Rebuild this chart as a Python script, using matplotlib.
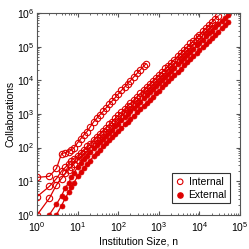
import numpy as np
import matplotlib.pyplot as plt

# institution sizes (log bins)
x_i1 = [1, 2, 3, 4, 5, 6, 7, 8, 10, 12, 14, 17, 20, 25, 30, 35, 42, 50, 60, 70,
        85, 100, 120, 145, 170, 200, 240, 290, 350, 420, 480]
y_i1 = [13, 14, 24, 66, 71, 76, 85, 96, 140, 185, 235, 300, 400, 590, 760, 940,
        1180, 1500, 1950, 2400, 3100, 3900, 5000, 6400, 7900, 9800, 12500, 16000,
        20500, 26000, 31000]

x_big = [1, 2, 3, 4, 5, 6, 7, 8, 10, 12, 14, 17, 20, 25, 30, 35, 42, 50, 60, 70,
         85, 100, 120, 145, 170, 200, 240, 290, 350, 420, 500, 600, 710, 850,
         1000, 1200, 1450, 1700, 2000, 2400, 2900, 3500, 4200, 5000, 6000, 7100,
         8500, 10000, 12000, 14500, 17000, 20000, 24000, 29000, 35000, 42000, 50000]

y_i2 = [3.5, 7, 12, 20, 26, 33, 40, 47, 57, 71, 85, 108, 131, 171, 213, 256, 319,
        393, 488, 590, 745, 904, 1130, 1410, 1710, 2080, 2580, 3250, 4080, 5080,
        6260, 7790, 9550, 11800, 14300, 17800, 22400, 27100, 32900, 41000, 51500,
        64700, 80600, 99300, 124000, 151000, 188000, 227000, 283000, 355000,
        430000, 522000, 650000, 816000]

y_i3 = [1, 3.1, 7.8, 12, 17, 22, 27, 32, 42, 52, 63, 80, 99, 130, 163, 197, 246,
        300, 370, 450, 565, 690, 860, 1080, 1300, 1580, 1960, 2470, 3100, 3860,
        4760, 5920, 7260, 9000, 10900, 13500, 17000, 20600, 25000, 31200, 39100,
        49200, 61300, 75500, 94000, 115000, 143000, 173000, 215000, 270000,
        327000, 397000]

x_e1 = x_big[1:]
y_e1 = [1, 2.1, 3.7, 6.5, 9, 13, 17, 27, 36, 45, 58, 72, 96, 121, 147, 183, 225,
        279, 337, 426, 517, 644, 808, 978, 1190, 1480, 1860, 2330, 2910, 3580,
        4460, 5460, 6780, 8200, 10200, 12800, 15500, 18900, 23500, 29500, 37000,
        46100, 56800, 70800, 86700, 108000, 130000, 162000, 203000, 246000,
        299000, 372000, 467000, 585000, 728000, 897000]

x_e2 = x_big[2:]
y_e2 = [1, 1.9, 3.2, 4.8, 6.7, 8.9, 14, 19, 24.5, 32, 41, 56, 71, 87, 108, 134,
        167, 202, 256, 310, 386, 485, 587, 714, 888, 1110, 1400, 1750, 2150,
        2680, 3280, 4070, 4920, 6130, 7690, 9300, 11300, 14100, 17700, 22200,
        27700, 34100, 42500, 52000, 64500, 78000, 97000, 122000, 148000, 179000,
        223000, 280000, 351000, 437000, 538000]

red = '#dd0000'
plt.rcParams['font.family'] = ['Liberation Sans', 'DejaVu Sans']
plt.rcParams['mathtext.default'] = 'regular'

fig = plt.figure(figsize=(2.49, 2.49), dpi=100)
ax = fig.add_axes([0.149, 0.137, 0.815, 0.811])

ms = 4.6
for xs, ys in [(x_i1, y_i1), (x_big[:len(y_i2)], y_i2), (x_big[:len(y_i3)], y_i3)]:
    ax.plot(xs, ys, '-o', color=red, lw=0.9, ms=ms, mfc='none', mew=0.8)
for xs, ys in [(x_e1, y_e1), (x_e2, y_e2)]:
    ax.plot(xs, ys, '-o', color=red, lw=0.9, ms=ms - 1.0, mfc=red, mew=0.5)

ax.set_xscale('log')
ax.set_yscale('log')
ax.set_xlim(1, 1e5)
ax.set_ylim(1, 1e6)
ax.set_xticks([1, 10, 100, 1e3, 1e4, 1e5])
ax.set_yticks([1, 10, 100, 1e3, 1e4, 1e5, 1e6])
ax.tick_params(which='both', direction='in', top=True, right=True,
               labelsize=7.5, color='#555555')
ax.tick_params(axis='x', pad=3.5)
ax.tick_params(axis='y', pad=2)
ax.tick_params(which='major', length=3)
ax.tick_params(which='minor', length=1.5)
for s in ax.spines.values():
    s.set_color('#555555')
    s.set_linewidth(0.8)

ax.set_xlabel('Institution Size, n', fontsize=7.5, labelpad=2)
ax.set_ylabel('Collaborations', fontsize=7.5, labelpad=1)

h1 = ax.scatter([], [], s=16, facecolors='none', edgecolors=red, linewidths=0.8)
h2 = ax.scatter([], [], s=14, color=red)
leg = ax.legend([h1, h2], ['Internal', 'External'], loc='lower right',
                fontsize=7.5, frameon=True, fancybox=False, edgecolor='black',
                handletextpad=0.3, borderpad=0.3, labelspacing=0.3,
                handlelength=1.0, borderaxespad=0,
                bbox_to_anchor=(0.95, 0.06))
leg.get_frame().set_linewidth(0.8)

fig.savefig('out.png', dpi=100)
